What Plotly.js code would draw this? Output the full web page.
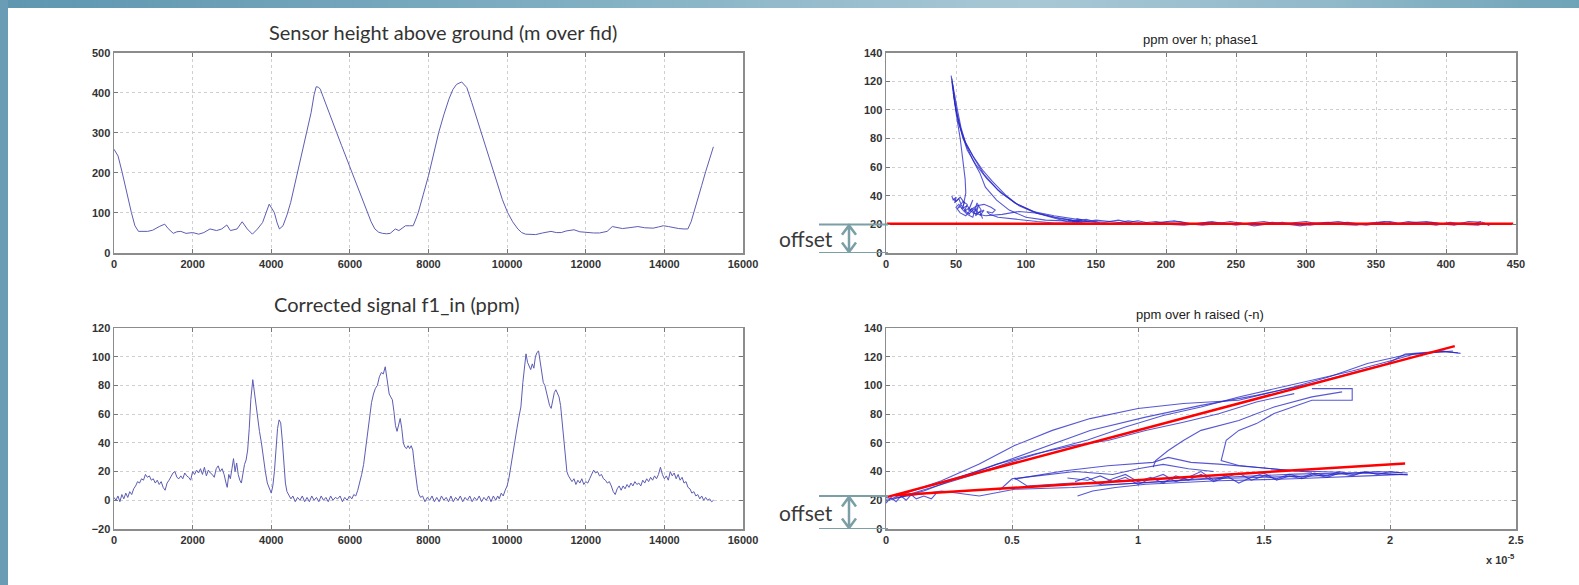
<!DOCTYPE html>
<html>
<head>
<meta charset="utf-8">
<script src="https://cdn.plot.ly/plotly-3.0.1.min.js"></script>
<style>
html,body{margin:0;padding:0;background:#fff;overflow:hidden;}
#topbar{position:absolute;left:0;top:0;width:1579px;height:8px;
 background:linear-gradient(to right,#5e96b0 0%,#7eaec2 35%,#a9c8d5 65%,#8fb8c9 85%,#6ea3b8 100%);}
#leftbar{position:absolute;left:0;top:0;width:8px;height:585px;background:#6a9db5;}
#chart{position:absolute;left:0;top:0;width:1579px;height:585px;}
</style>
</head>
<body>
<div id="topbar"></div>
<div id="leftbar"></div>
<div id="chart"></div>
<script>
// ---------- DATA ----------
// Sensor height above ground (m) over fid
const heightPts = [[0,259],[104,242],[208,201],[338,143],[442,101],[532,68],[623,54],[857,54],[987,57],[1150,66],[1290,72],[1377,61],[1507,49],[1600,53],[1700,54],[1830,49],[2000,51],[2156,47],[2286,51],[2442,60],[2610,56],[2740,60],[2870,70],[2961,56],[3130,60],[3260,78],[3390,60],[3520,47],[3650,60],[3779,76],[3870,100],[3948,122],[4010,112],[4078,101],[4150,75],[4208,60],[4299,68],[4400,95],[4494,126],[4620,180],[4753,234],[4880,292],[5013,350],[5090,395],[5143,415],[5200,414],[5247,409],[5320,390],[5403,367],[5530,334],[5662,301],[5790,268],[5922,234],[6050,200],[6182,168],[6310,134],[6442,101],[6540,78],[6636,60],[6731,52],[6831,49],[6930,48],[7026,49],[7100,55],[7156,60],[7247,56],[7330,62],[7416,68],[7520,68],[7610,68],[7680,85],[7740,101],[7870,147],[8000,193],[8130,247],[8260,301],[8390,345],[8519,384],[8620,408],[8714,421],[8844,427],[8974,413],[9100,376],[9234,334],[9360,292],[9494,251],[9620,210],[9753,168],[9880,133],[10013,101],[10140,78],[10273,60],[10370,51],[10468,47],[10600,46],[10727,46],[10900,50],[11117,54],[11250,51],[11377,51],[11500,55],[11701,58],[11850,53],[12026,51],[12200,50],[12351,50],[12450,52],[12545,54],[12675,66],[12800,63],[12935,61],[13100,63],[13325,66],[13500,63],[13714,62],[13850,65],[13974,68],[14104,66],[14250,63],[14364,61],[14500,60],[14597,60],[14680,78],[14753,101],[14850,135],[14948,168],[15050,203],[15143,234],[15247,265]];

// Corrected signal f1_in (ppm) over fid
const signalPts = [[0,2],[50,0],[100,3],[150,-1],[200,4],[250,1],[300,5],[350,2],[400,6],[450,4],[500,8],[550,10],[600,13],[650,12],[700,15],[750,14],[800,18],[850,16],[900,17],[950,14],[1000,15],[1050,12],[1100,14],[1150,11],[1200,13],[1250,9],[1300,7],[1350,12],[1400,14],[1450,17],[1500,19],[1550,20],[1600,16],[1650,15],[1700,17],[1750,15],[1800,19],[1850,17],[1900,16],[1950,14],[2000,20],[2050,18],[2100,21],[2150,19],[2200,22],[2250,18],[2300,23],[2350,17],[2400,21],[2450,19],[2500,18],[2550,16],[2600,22],[2650,24],[2700,20],[2750,22],[2800,18],[2850,12],[2880,9],[2920,18],[2960,15],[3000,22],[3040,29],[3080,20],[3120,26],[3160,18],[3200,14],[3240,12],[3280,20],[3320,25],[3360,28],[3400,35],[3440,50],[3480,70],[3530,84],[3570,75],[3620,67],[3660,58],[3700,48],[3750,40],[3800,28],[3850,20],[3900,12],[3950,8],[4000,5],[4040,10],[4080,20],[4120,35],[4160,50],[4200,56],[4240,54],[4280,42],[4320,28],[4360,12],[4400,6],[4450,3],[4500,1],
[4550,3],[4610,-1],[4670,2],[4730,0],[4790,3],[4850,-1],[4910,2],[4970,-1],[5030,3],[5090,0],[5150,2],[5210,-1],[5270,3],[5330,0],[5390,2],[5450,-1],[5510,3],[5570,0],[5630,2],[5690,1],[5750,3],[5810,-1],[5870,2],[5930,0],[5990,3],[6050,1],
[6100,4],[6150,3],[6200,7],[6250,12],[6300,18],[6350,25],[6400,35],[6450,48],[6500,58],[6550,68],[6600,74],[6650,78],[6700,80],[6750,86],[6800,89],[6850,88],[6900,93],[6930,88],[6960,80],[7000,74],[7040,72],[7080,70],[7120,62],[7160,52],[7200,48],[7240,53],[7280,57],[7320,50],[7360,40],[7400,37],[7440,36],[7480,38],[7520,36],[7560,38],[7600,35],[7640,25],[7680,14],[7720,8],[7760,4],[7800,2],
[7850,3],[7910,-1],[7970,2],[8030,0],[8090,3],[8150,-1],[8210,2],[8270,-1],[8330,3],[8390,0],[8450,2],[8510,-1],[8570,3],[8630,-1],[8690,2],[8750,0],[8810,3],[8870,-1],[8930,2],[8990,0],[9050,3],[9110,-1],[9170,2],[9230,0],[9290,3],[9350,-1],[9410,2],[9470,0],[9530,3],[9590,-1],[9650,3],[9710,0],
[9760,3],[9800,1],[9850,5],[9900,3],[9950,7],[10000,10],[10050,16],[10100,25],[10150,35],[10200,42],[10250,50],[10300,58],[10350,65],[10400,82],[10450,98],[10480,102],[10520,96],[10560,93],[10600,91],[10640,95],[10680,92],[10720,100],[10760,103],[10800,104],[10840,97],[10880,90],[10920,82],[10960,80],[11000,75],[11040,70],[11080,66],[11120,64],[11160,70],[11200,75],[11240,77],[11280,74],[11320,72],[11360,66],[11400,55],[11440,40],[11480,28],[11520,20],[11560,17],[11600,15],[11650,13],[11700,15],[11750,11],[11800,14],[11850,12],[11900,15],[11950,11],[12000,13],[12050,12],[12100,15],[12150,18],[12200,21],[12250,19],[12300,20],[12350,17],[12400,18],[12450,15],[12500,14],[12550,12],[12600,13],[12650,10],[12700,6],[12750,4],[12800,8],[12850,10],[12900,7],[12950,10],[13000,8],[13050,11],[13100,9],[13150,12],[13200,10],[13250,13],[13300,11],[13350,12],[13400,10],[13450,14],[13500,12],[13550,15],[13600,13],[13650,16],[13700,14],[13750,17],[13800,15],[13850,18],[13900,23],[13950,18],[14000,15],[14050,17],[14100,14],[14150,20],[14200,17],[14250,19],[14300,15],[14350,18],[14400,14],[14450,16],[14500,12],[14550,13],[14600,9],[14650,8],[14700,5],[14750,6],[14800,3],[14850,4],[14900,1],[14950,3],[15000,0],[15050,2],[15100,0],[15150,1],[15200,-1],[15250,0]];

// ppm over h; phase1 — individual sweeps [h, ppm]
const phaseA = [[46.5,124],[47.5,118],[49,110],[51,100],[53.5,88],[57,76],[62,65],[67,56],[71,46],[79,37],[88,30],[100,25],[114,23],[133,22],[150,21.5]];
const phaseB = [[47,122],[50,100],[55,80],[62,68],[69,58],[76,50],[86,40],[95,33],[107,28],[121,25],[133,23],[145,22]];
const phaseC = [[47,120],[49,105],[52,90],[57,77],[63,66],[70,55],[80,44],[92,35],[105,29],[120,26],[140,23]];
const phaseD = [[47.5,118],[50,98],[53,80],[55,66],[56.5,52],[57,42],[56,36],[55,32],[57,29],[60,27]];
const phaseE = [[47,40],[48,37],[50,39],[49,35],[52,38],[54,33],[51,31],[55,36],[58,34],[56,29],[60,32],[62,37],[59,30],[63,28],[66,33],[64,26],[68,30],[65,35],[62,25],[58,27],[55,30],[52,34],[50,32],[53,28],[57,26],[61,31],[64,27],[67,29],[69,24]];
const phaseF = [[60,30],[65,33],[70,34],[75,32],[78,30],[76,28],[72,29],[74,27],[80,25],[88,24],[97,23],[108,22],[120,21],[135,21]];
const phaseG = [[62,28],[71,26],[83,27],[95,29],[107,28],[119,25],[129,22],[140,21]];
const phaseH = [[48,112],[51,96],[54,84],[58,72],[64,62],[72,52],[82,42],[94,34],[108,28],[124,24],[138,22]];
const phaseI = [[48,38],[50,36],[53,39],[56,35],[54,31],[58,33],[61,29],[59,27],[63,31],[66,28],[70,30],[67,26]];
const flatH = [130,140,150,160,170,180,190,200,210,220,230,240,250,260,270,280,290,300,310,320,330,340,350,360,370,380,390,400,410,420,425];
const flat1 = [23,21.5,23,22,21,22.5,20.5,21.5,22,20,21.5,21,19.5,21,22,20,21,22,20,21,21.5,20,21,22,20,20.5,21.5,20,21,20.5,22];
const flat2 = [22,23.5,21,20.5,22.5,21,22,20,19.5,21,22,20,21,19,20.5,21.5,20,19.5,21,22,20.5,19.5,21,20,22,21,19.5,21.5,20,19.5,21];
const flat3 = [24,22,21.5,23,21,20,21.5,22.5,20.5,19.5,20.5,22,20.5,20,21.5,20.5,19,21,21.5,20,19.5,21,22,20.5,21,22,20.5,19.5,22,21.5,19];
const offsetFit1 = [[0.5,20.5],[448,20.5]];

// ppm over h raised (-n) — x in units of 1e-5
const raisedU1 = [[0.03,21.9],[0.22,33.6],[0.37,45.3],[0.51,58.1],[0.66,68.7],[0.81,76.9],[1.0,83.9],[1.18,87.4],[1.40,89.7],[1.62,99.1],[1.76,106],[1.91,115.3],[2.06,121.2],[2.21,123.5],[2.27,122.8]];
const raisedU2 = [[0,21.9],[0.15,28.9],[0.37,40.6],[0.59,54.6],[0.81,68.6],[1.03,77.9],[1.25,86.1],[1.47,93.1],[1.69,101.3],[1.84,108.3],[1.99,115.3],[2.06,121.8],[2.21,123.9],[2.28,122.3]];
const raisedU3 = [[1.69,97.8],[1.85,97.8],[1.85,89.7],[1.69,89.7],[1.54,80.4],[1.47,73.4],[1.40,68.7],[1.35,61.7],[1.33,47.7],[1.40,44.2],[1.54,41.8],[1.69,39.5]];
const raisedU4 = [[1.81,95.5],[1.69,92],[1.54,85],[1.40,75.6],[1.25,68.7],[1.18,61.7],[1.12,54.7],[1.07,47.7],[1.06,43]];
const raisedU5 = [[0,19.5],[0.15,26.5],[0.29,35.9],[0.44,45.2],[0.59,52.2],[0.74,58.1],[0.88,61.6],[1.03,68.6],[1.18,74.4],[1.32,80.3],[1.47,88.5],[1.62,94.3]];
const raisedU6 = [[0.05,22],[0.2,30],[0.35,38],[0.5,47],[0.65,55],[0.8,62],[0.95,71],[1.1,79],[1.25,85],[1.4,92],[1.55,98],[1.7,104],[1.85,110],[2.0,117],[2.1,122],[2.25,124]];
const raisedL1 = [[0,20.7],[0.22,26.5],[0.37,23],[0.51,27.7],[0.74,28.9],[1.03,32.4],[1.32,35.9],[1.62,38.2],[1.91,39.4],[2.07,37.7]];
const raisedL2 = [[0.51,34.7],[0.71,40.6],[0.88,44.1],[1.06,46.4],[1.12,49.9],[1.21,46.4],[1.32,45.2],[1.47,42.9],[1.62,40.6],[1.80,39.5]];
const raisedL3 = [[0.51,35.5],[0.56,30],[0.74,32],[0.9,31],[1.1,33],[1.3,35],[1.5,36],[1.7,37],[1.95,40],[2.07,39]];
const raisedL4 = [[0.72,35.5],[0.8,34],[0.85,37],[0.9,33],[0.95,36],[1.0,31],[1.05,35],[1.1,38],[1.15,33],[1.2,36],[1.25,40],[1.3,34],[1.35,37],[1.4,32],[1.45,36],[1.5,39],[1.55,34],[1.6,37],[1.65,35],[1.7,38],[1.75,36],[1.8,39],[1.85,37],[1.9,40],[1.95,38],[2.0,40],[2.05,39]];
const raisedL5 = [[0.76,23],[0.82,26.5],[0.91,28.9],[1.03,31.2],[1.32,33.6],[1.62,35],[1.91,37],[2.05,38]];
const raisedL6 = [[0,18],[0.02,22],[0.04,19],[0.06,23],[0.08,20],[0.1,24],[0.12,21],[0.15,23],[0.18,21],[0.2,25]];
const raisedL7 = [[0.75,33],[0.8,36],[0.85,31],[0.9,35],[0.95,38],[1.0,33],[1.05,36],[1.1,32],[1.15,37],[1.2,34],[1.25,38],[1.3,33],[1.35,36],[1.4,39],[1.45,34],[1.5,37],[1.55,35],[1.6,38],[1.65,36],[1.7,39],[1.75,37],[1.8,40],[1.85,38],[1.9,39],[2.0,38],[2.07,38]];
const raisedL8 = [[0.45,27],[0.5,35],[0.6,37],[0.75,40],[0.9,38],[1.0,42],[1.1,45],[1.2,42],[1.3,40]];
const fitUpper = [[0.006,22.4],[2.257,127.4]];
const fitLower = [[0.037,23.5],[2.06,45.7]];

const titles = ["Sensor height above ground (m over fid)","Corrected signal f1_in (ppm)","ppm over h; phase1","ppm over h raised (-n)"];

// ---------- BUILD ----------
const W = 1579, H = 585;
const px = v => v / W, py = v => 1 - v / H;
const X = a => a.map(p => p[0]), Y = a => a.map(p => p[1]);

const thin = '#5c5cb4';
const blue = 'rgba(40,40,200,0.78)';
function line(pts, xa, ya, color, w) {
  return {type:'scatter', mode:'lines', x:X(pts), y:Y(pts), xaxis:xa, yaxis:ya,
          line:{color:color, width:w}, hoverinfo:'skip', showlegend:false};
}
const traces = [];
traces.push(line(heightPts,'x','y',thin,1));
traces.push(line(signalPts,'x2','y2',thin,1));
[phaseA,phaseB,phaseC,phaseD,phaseE,phaseF,phaseG,phaseH,phaseI].forEach(c=>traces.push(line(c,'x3','y3',blue,1.1)));
[flat1,flat2,flat3].forEach((f,i)=>traces.push({type:'scatter',mode:'lines',x:flatH.map(h=>h+i*3),y:f,xaxis:'x3',yaxis:'y3',line:{color:blue,width:1.1},hoverinfo:'skip',showlegend:false}));
traces.push(line(offsetFit1,'x3','y3','#ff0000',2.5));
[raisedU1,raisedU2,raisedU3,raisedU4,raisedU5,raisedU6,raisedL1,raisedL2,raisedL3,raisedL4,raisedL5,raisedL6,raisedL7,raisedL8].forEach(c=>traces.push(line(c,'x4','y4',blue,1.1)));
traces.push(line(fitUpper,'x4','y4','#ff0000',2.5));
traces.push(line(fitLower,'x4','y4','#ff0000',2.5));

const tickfont = {family:'Liberation Sans, Arial, sans-serif', size:11, color:'#333', weight:'bold'};
function ax(domain, range, dtick, anchor, fmt) {
  return {domain:domain, range:range, dtick:dtick, tick0:0, anchor:anchor, showgrid:true,
    gridcolor:'#cfcfcf', griddash:'dot', gridwidth:1, zeroline:false,
    showline:true, linecolor:'#8c8c8c', linewidth:1.5, mirror:'ticks',
    ticks:'inside', ticklen:4, tickcolor:'#777', tickfont:tickfont, fixedrange:true,
    tickformat:fmt, exponentformat:'none', separatethousands:false};
}
const LX = [px(114), px(743)], RX = [px(886), px(1516)];
const TY = [py(253), py(52.7)], BY = [py(529), py(328)];

const layout = {
  width:W, height:H, margin:{l:0,r:0,t:0,b:0},
  paper_bgcolor:'rgba(0,0,0,0)', plot_bgcolor:'#ffffff', showlegend:false,
  xaxis: ax(LX,[0,16000],2000,'y','d'),
  yaxis: ax(TY,[0,500],100,'x','d'),
  xaxis2: ax(LX,[0,16000],2000,'y2','d'),
  yaxis2: ax(BY,[-20,120],20,'x2','d'),
  xaxis3: ax(RX,[0,450],50,'y3','d'),
  yaxis3: ax(TY,[0,140],20,'x3','d'),
  xaxis4: ax(RX,[0,2.5],0.5,'y4',''),
  yaxis4: ax(BY,[0,140],20,'x4','d'),
  annotations: [
    {text:titles[0], xref:'paper', yref:'paper', x:px(443), y:py(32), xanchor:'center', yanchor:'middle', showarrow:false, font:{family:'Lato, sans-serif', size:20, color:'#333'}},
    {text:titles[1], xref:'paper', yref:'paper', x:px(397), y:py(304), xanchor:'center', yanchor:'middle', showarrow:false, font:{family:'Lato, sans-serif', size:20, color:'#333'}},
    {text:titles[2], xref:'paper', yref:'paper', x:px(1200), y:py(40), xanchor:'center', yanchor:'middle', showarrow:false, font:{family:'Liberation Sans, Arial, sans-serif', size:13, color:'#222'}},
    {text:titles[3], xref:'paper', yref:'paper', x:px(1200), y:py(314), xanchor:'center', yanchor:'middle', showarrow:false, font:{family:'Liberation Sans, Arial, sans-serif', size:13, color:'#222'}},
    {text:'x 10<sup>-5</sup>', xref:'paper', yref:'paper', x:px(1517), y:py(559), xanchor:'right', yanchor:'middle', showarrow:false, font:tickfont},
    {text:'offset', xref:'paper', yref:'y3', x:px(806), y:10, xanchor:'center', yanchor:'middle', showarrow:false, font:{family:'Lato, sans-serif', size:21, color:'#3a3a3a'}},
    {text:'offset', xref:'paper', yref:'y4', x:px(806), y:11.5, xanchor:'center', yanchor:'middle', showarrow:false, font:{family:'Lato, sans-serif', size:21, color:'#3a3a3a'}}
  ],
  shapes: []
};
const oc = '#7c9ea6';
function offsetMark(yref, top) {
  const l0 = px(819), l1 = px(888), cx = px(849), dx = 7 / W;
  const ppu = 201 / 140;           // pixels per data unit
  const a = 9.5 / ppu, pad = 0.7;
  layout.shapes.push({type:'line', xref:'paper', yref:yref, x0:l0, x1:l1, y0:top, y1:top, line:{color:oc, width:2}});
  layout.shapes.push({type:'line', xref:'paper', yref:yref, x0:l0, x1:l1, y0:0, y1:0, line:{color:oc, width:2}});
  const t = top - pad, b = pad;
  const path = `M ${cx},${t} L ${cx},${b} M ${cx-dx},${t-a} L ${cx},${t} L ${cx+dx},${t-a} M ${cx-dx},${b+a} L ${cx},${b} L ${cx+dx},${b+a}`;
  layout.shapes.push({type:'path', xref:'paper', yref:yref, path:path, line:{color:oc, width:2.5}});
}
offsetMark('y3', 20);
offsetMark('y4', 23);

Plotly.newPlot('chart', traces, layout, {staticPlot:true, displayModeBar:false});
</script>
</body>
</html>
